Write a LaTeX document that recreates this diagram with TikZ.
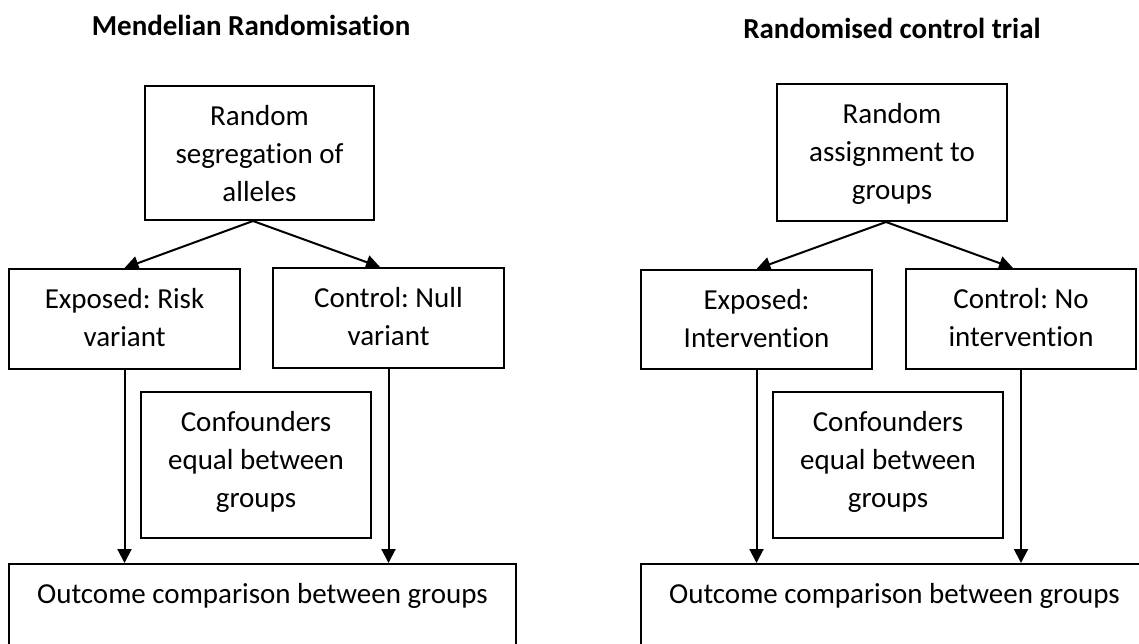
\documentclass[tikz,border=0pt]{standalone}
\usepackage{fontspec}
\setmainfont{Carlito}[Ligatures=NoCommon]
\usetikzlibrary{arrows.meta}
\frenchspacing
\begin{document}
\begin{tikzpicture}[x=1pt,y=-1pt,
  box/.style 2 args={draw, line width=2pt, inner sep=0pt,
                     minimum width=#1, minimum height=#2},
  txt/.style={font=\fontsize{29}{38}\selectfont, align=center,
              inner sep=0pt, anchor=north},
  ttl/.style={font=\fontsize{29}{38}\selectfont\bfseries, inner sep=0pt, anchor=base},
  arr/.style={line width=2pt, -{Triangle[length=14pt,width=14pt]}}]
  \clip (0,0) rectangle (1139,643);

  % ---------- Mendelian randomisation ----------
  \node[ttl] (mrTitle) at (251,35) {Mendelian Randomisation};
  \node[box={229pt}{134pt}] (mrTop) at (259.5,153) {};
  \node[txt] (mrTopT) at ([yshift=-13.4pt]mrTop.north) {\strut Random\\segregation of\\alleles};
  \node[box={231pt}{100pt}] (mrExp) at (124.5,319) {};
  \node[txt] (mrExpT) at ([yshift=-13.4pt]mrExp.north) {\strut Exposed: Risk\\variant};
  \node[box={231pt}{100pt}] (mrCtl) at (388.5,318) {};
  \node[txt] (mrCtlT) at ([yshift=-13.4pt]mrCtl.north) {\strut Control: Null\\variant};
  \node[box={230pt}{146pt}] (mrConf) at (256,465) {};
  \node[txt] (mrConfT) at ([yshift=-13.4pt]mrConf.north) {\strut Confounders\\equal between\\groups};
  \node[box={507pt}{136pt}] (mrOut) at (262.5,632) {};
  \node[txt] (mrOutT) at ([yshift=-13.4pt]mrOut.north) {\strut Outcome comparison between groups};

  \coordinate (mrSplit) at ([xshift=-6.5pt]mrTop.south);
  \draw[arr] (mrSplit) -- (mrExp.north);
  \draw[arr] (mrSplit) -- ([xshift=-8.5pt]mrCtl.north);
  \draw[arr] (mrExp.south) -- (mrExp.south |- mrOut.north);
  \draw[arr] (mrCtl.south) -- (mrCtl.south |- mrOut.north);

  % ---------- Randomised control trial ----------
  \node[ttl] (rctTitle) at (892,38) {Randomised control trial};
  \node[box={230pt}{137pt}] (rctTop) at (892,152.5) {};
  \node[txt] (rctTopT) at ([yshift=-13.4pt]rctTop.north) {\strut Random\\assignment to\\groups};
  \node[box={231pt}{99pt}] (rctExp) at (756.5,319.5) {};
  \node[txt] (rctExpT) at ([yshift=-13.4pt]rctExp.north) {\strut Exposed:\\Intervention};
  \node[box={230pt}{100pt}] (rctCtl) at (1021,319) {};
  \node[txt] (rctCtlT) at ([yshift=-13.4pt]rctCtl.north) {\strut Control: No\\intervention};
  \node[box={230pt}{146pt}] (rctConf) at (888,465) {};
  \node[txt] (rctConfT) at ([yshift=-13.4pt]rctConf.north) {\strut Confounders\\equal between\\groups};
  \node[box={507pt}{136pt}] (rctOut) at (894.5,632) {};
  \node[txt] (rctOutT) at ([yshift=-13.4pt]rctOut.north) {\strut Outcome comparison between groups};

  \coordinate (rctSplit) at ([xshift=-6pt]rctTop.south);
  \draw[arr] (rctSplit) -- (rctExp.north);
  \draw[arr] (rctSplit) -- ([xshift=-8pt]rctCtl.north);
  \draw[arr] (rctExp.south) -- (rctExp.south |- rctOut.north);
  \draw[arr] (rctCtl.south) -- (rctCtl.south |- rctOut.north);
\end{tikzpicture}
\end{document}
